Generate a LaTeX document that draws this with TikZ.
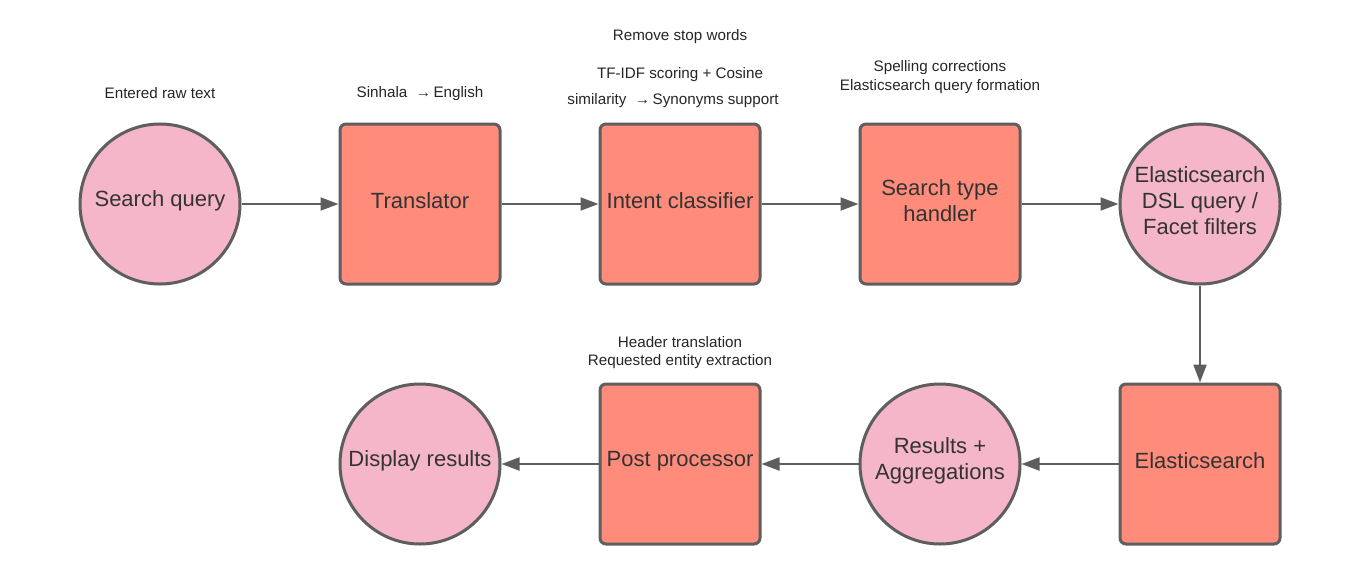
\documentclass[tikz,border=0pt]{standalone}
\usepackage{fontspec}
\setmainfont{Liberation Sans}
\usetikzlibrary{arrows.meta}
\definecolor{pinkfill}{HTML}{F4B6C8}
\definecolor{boxfill}{HTML}{FF8B7B}
\definecolor{edgegray}{HTML}{5E5E5E}
\definecolor{txt}{HTML}{333333}
\tikzset{
  x=1pt, y=-1pt,
  circ/.style={circle, draw=edgegray, line width=3pt, fill=pinkfill, minimum size=160pt, inner sep=0pt},
  sq/.style={rectangle, rounded corners=6pt, draw=edgegray, line width=3pt, fill=boxfill, minimum size=160pt, inner sep=0pt},
  lab/.style={align=center, font=\fontsize{22}{26}\selectfont, text=txt, yshift=3pt, inner sep=0pt},
  note/.style={align=center, font=\fontsize{15.2}{19}\selectfont, text=black!85},
  conn/.style={draw=edgegray, line width=2pt, -{Triangle[length=18pt,width=13pt]}},
}
\begin{document}
\begin{tikzpicture}
\useasboundingbox[fill=white] (0,0) rectangle (1360,582);
\node[circ, label={[lab]center:Search query}] (sq) at (160,204) {};
\node[sq, label={[lab]center:Translator}] (tr) at (420,204) {};
\node[sq, label={[lab]center:Intent classifier}] (ic) at (680,204) {};
\node[sq, label={[lab]center:{Search type\\handler}}] (st) at (940,204) {};
\node[circ, label={[lab]center:{Elasticsearch\\DSL query /\\Facet filters}}] (dsl) at (1200,204) {};
\node[sq, label={[lab]center:Elasticsearch}] (es) at (1200,464) {};
\node[circ, label={[lab]center:{Results +\\Aggregations}}] (ra) at (940,464) {};
\node[sq, label={[lab]center:Post processor}] (pp) at (680,464) {};
\node[circ, label={[lab]center:Display results}] (dr) at (420,464) {};

\node[note] (n1) at (160,93) {Entered raw text};
\node[note] (n2) at (420,94) {Sinhala \ →\,English};
\node[note] (n3) at (680,37) {Remove stop words};
\node[note] (n4) at (680,75) {TF-IDF scoring + Cosine};
\node[note] (n5) at (673,101) {similarity \ →\,Synonyms support};
\node[note] (n6) at (940,77) {Spelling corrections\\Elasticsearch query formation};
\node[note] (n7) at (680,353) {Header translation\\[-1pt]Requested entity extraction};

\draw[conn] (sq) -- (tr);
\draw[conn] (tr) -- (ic);
\draw[conn] (ic) -- (st);
\draw[conn] (st) -- (dsl);
\draw[conn] (dsl) -- (es);
\draw[conn] (es) -- (ra);
\draw[conn] (ra) -- (pp);
\draw[conn] (pp) -- (dr);
\end{tikzpicture}
\end{document}
